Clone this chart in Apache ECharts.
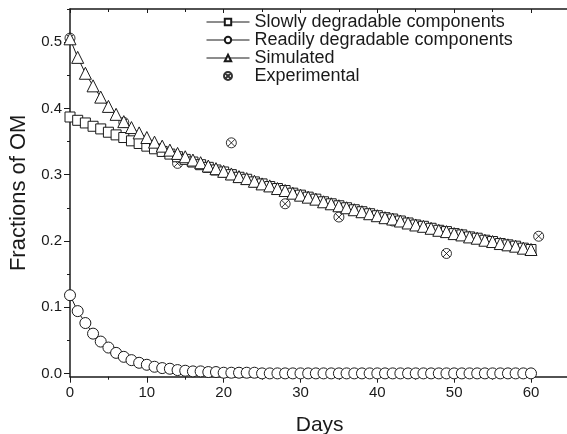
<!DOCTYPE html>
<html>
<head>
<meta charset="utf-8">
<script src="https://cdn.jsdelivr.net/npm/echarts@6/dist/echarts.min.js"></script>
<style>html,body{margin:0;padding:0;background:#fff;}#c{width:567px;height:434px;}</style>
</head>
<body>
<div id="c"></div>
<script>
const days = [0,1,2,3,4,5,6,7,8,9,10,11,12,13,14,15,16,17,18,19,20,21,22,23,24,25,26,27,28,29,30,31,32,33,34,35,36,37,38,39,40,41,42,43,44,45,46,47,48,49,50,51,52,53,54,55,56,57,58,59,60];
const slowly = [0.387,0.382,0.378,0.373,0.369,0.364,0.360,0.356,0.351,0.347,0.343,0.339,0.335,0.331,0.327,0.323,0.319,0.315,0.311,0.307,0.304,0.300,0.296,0.293,0.289,0.286,0.282,0.279,0.276,0.272,0.269,0.266,0.263,0.259,0.256,0.253,0.250,0.247,0.244,0.241,0.238,0.235,0.233,0.230,0.227,0.224,0.222,0.219,0.216,0.214,0.211,0.209,0.206,0.204,0.201,0.199,0.196,0.194,0.192,0.189,0.187];
const readily = [0.118,0.094,0.076,0.060,0.048,0.039,0.031,0.025,0.020,0.016,0.013,0.010,0.008,0.007,0.005,0.004,0.003,0.003,0.002,0.002,0.001,0.001,0.001,0.001,0.001,0,0,0,0,0,0,0,0,0,0,0,0,0,0,0,0,0,0,0,0,0,0,0,0,0,0,0,0,0,0,0,0,0,0,0,0];
const simulated = [0.505,0.477,0.453,0.434,0.417,0.403,0.391,0.380,0.371,0.363,0.356,0.349,0.343,0.337,0.332,0.327,0.322,0.318,0.313,0.309,0.305,0.301,0.297,0.294,0.290,0.286,0.283,0.279,0.276,0.272,0.269,0.266,0.263,0.259,0.256,0.253,0.250,0.247,0.244,0.241,0.238,0.235,0.233,0.230,0.227,0.224,0.222,0.219,0.216,0.214,0.211,0.209,0.206,0.204,0.201,0.199,0.196,0.194,0.192,0.189,0.187];
const expDays = [0,7,14,21,28,35,42,49,61];
const expValues = [0.506,0.379,0.317,0.348,0.256,0.236,0.230,0.181,0.207];
const yLabels = [0,0.1,0.2,0.3,0.4,0.5];
const yMinorTicks = [0.05,0.15,0.25,0.35,0.45,0.55];

const pair = (xs, ys) => xs.map((x, i) => [x, ys[i]]);
const font = 'Liberation Sans, Arial, sans-serif';
const ink = '#1a1a1a';
const otimes = 'path://M0,-10A10,10,0,1,1,0,10A10,10,0,1,1,0,-10ZM-7,-7L7,7M7,-7L-7,7';

const lineSeries = (name, data, symbol, size) => ({
  name, type: 'line', data, symbol, symbolSize: size, clip: false,
  showAllSymbol: true,
  lineStyle: {color: ink, width: 1},
  itemStyle: {color: '#fff', borderColor: ink, borderWidth: 1},
  emphasis: {disabled: true}
});

const chart = echarts.init(document.getElementById('c'), null, {renderer: 'canvas'});
chart.setOption({
  animation: false,
  backgroundColor: '#fff',
  textStyle: {fontFamily: font},
  grid: {left: 70, top: 9, width: 499.4, height: 367.7, outerBoundsMode: 'none', containLabel: false},
  legend: {
    orient: 'vertical', left: 201, top: 8, itemGap: 0,
    itemWidth: 43, itemHeight: 8,
    lineStyle: {width: 1},
    textStyle: {fontSize: 18, color: ink, fontFamily: font},
    data: ['Slowly degradable components','Readily degradable components','Simulated','Experimental']
  },
  xAxis: [{
    type: 'value', min: 0, max: 65, interval: 10,
    name: 'Days', nameLocation: 'middle', nameGap: 38,
    nameTextStyle: {fontSize: 21, color: ink, fontFamily: font},
    axisLine: {show: true, onZero: false, lineStyle: {color: ink, width: 1.5}},
    axisTick: {show: true, length: 6, lineStyle: {color: ink}},
    minorTick: {show: true, splitNumber: 2, length: 3, lineStyle: {color: ink}},
    axisLabel: {fontSize: 15, color: ink, margin: 9, showMaxLabel: false, fontFamily: font},
    splitLine: {show: false}
  }, {
    type: 'value', min: 0, max: 65, interval: 10, position: 'top',
    axisLine: {show: true, onZero: false, lineStyle: {color: ink, width: 1.5}},
    axisTick: {show: true, inside: true, length: 4, lineStyle: {color: ink}},
    minorTick: {show: true, splitNumber: 2, length: 3, lineStyle: {color: ink}},
    axisLabel: {show: false}, splitLine: {show: false}
  }],
  yAxis: [{
    type: 'value', min: -0.005, max: 0.55,
    name: 'Fractions of OM', nameLocation: 'middle', nameGap: 40,
    nameTextStyle: {fontSize: 22, color: ink, fontFamily: font},
    axisLine: {show: true, onZero: false, lineStyle: {color: ink, width: 1.5}},
    axisTick: {show: true, length: 6, customValues: yLabels, lineStyle: {color: ink}},
    axisLabel: {fontSize: 15, color: ink, margin: 8, customValues: yLabels,
      formatter: v => v.toFixed(1), fontFamily: font},
    splitLine: {show: false}
  }, {
    type: 'value', min: -0.005, max: 0.55, position: 'left',
    axisLine: {show: false, onZero: false},
    axisTick: {show: true, length: 3, customValues: yMinorTicks, lineStyle: {color: ink}},
    axisLabel: {show: false}, splitLine: {show: false}
  }],
  series: [
    lineSeries('Slowly degradable components', pair(days, slowly), 'rect', 10),
    lineSeries('Readily degradable components', pair(days, readily), 'circle', 11),
    lineSeries('Simulated', pair(days, simulated), 'triangle', 12),
    {
      name: 'Experimental', type: 'scatter', data: pair(expDays, expValues),
      symbol: otimes, symbolSize: 10, clip: false,
      itemStyle: {color: '#fff', borderColor: '#000', borderWidth: 1},
      emphasis: {disabled: true}
    }
  ]
});
</script>
</body>
</html>
